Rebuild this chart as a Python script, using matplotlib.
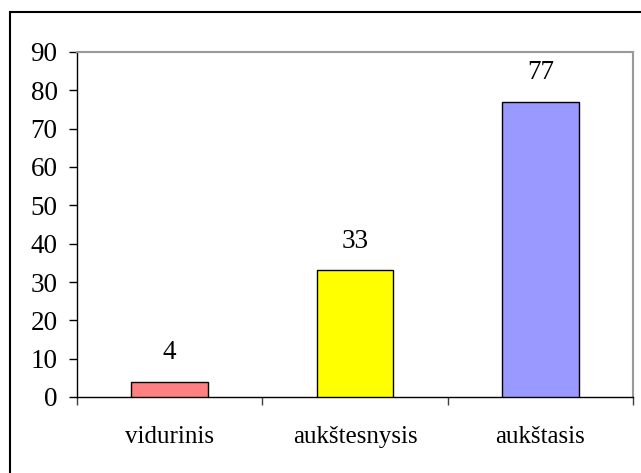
import matplotlib
matplotlib.use("Agg")
import matplotlib.pyplot as plt
from matplotlib.patches import Rectangle

categories = ["vidurinis", "aukštesnysis", "aukštasis"]
values = [4, 33, 77]
colors = ["#FF8080", "#FFFF00", "#9999FF"]
yticks = [0, 10, 20, 30, 40, 50, 60, 70, 80, 90]

plt.rcParams['font.family'] = ['Liberation Serif', 'DejaVu Serif']
FS_NUM = 19.5
FS_CAT = 18

fig = plt.figure(figsize=(6.41, 4.73), dpi=100)
ax = fig.add_axes([77/641, 1-397/473, (633-77)/641, (397-52)/473])

x = list(range(len(categories)))
bars = ax.bar(x, values, width=0.415, color=colors, edgecolor="black", linewidth=1.0, zorder=3)
for xi, v in zip(x, values):
    ax.annotate(str(v), (xi, v), xytext=(0, 12), textcoords="offset points",
                ha="center", va="bottom", fontsize=FS_NUM)

ax.set_xlim(-0.5, 2.5)
ax.set_ylim(0, 90)
ax.set_yticks(yticks)
ax.set_yticklabels([str(t) for t in yticks], fontsize=FS_NUM)
ax.tick_params(axis="y", length=6, width=1, pad=8)

ax.set_xticks(x)
ax.set_xticklabels(categories, fontsize=FS_CAT)
ax.tick_params(axis="x", which="major", length=0, pad=21)
ax.set_xticks([-0.5, 0.5, 1.5, 2.5], minor=True)
ax.tick_params(axis="x", which="minor", length=6, width=1, color="#404040")

for s in ["left", "bottom"]:
    ax.spines[s].set_color("black")
    ax.spines[s].set_linewidth(1.0)
for s in ["top", "right"]:
    ax.spines[s].set_color("#999999")
    ax.spines[s].set_linewidth(1.5)

fig.patches.append(Rectangle((9.5/641, -0.5), 2.0, 1.5 - 12.5/473,
                             transform=fig.transFigure, fill=False,
                             edgecolor="black", linewidth=1.5, clip_on=False))

fig.savefig("out.png", dpi=100, facecolor="white")
